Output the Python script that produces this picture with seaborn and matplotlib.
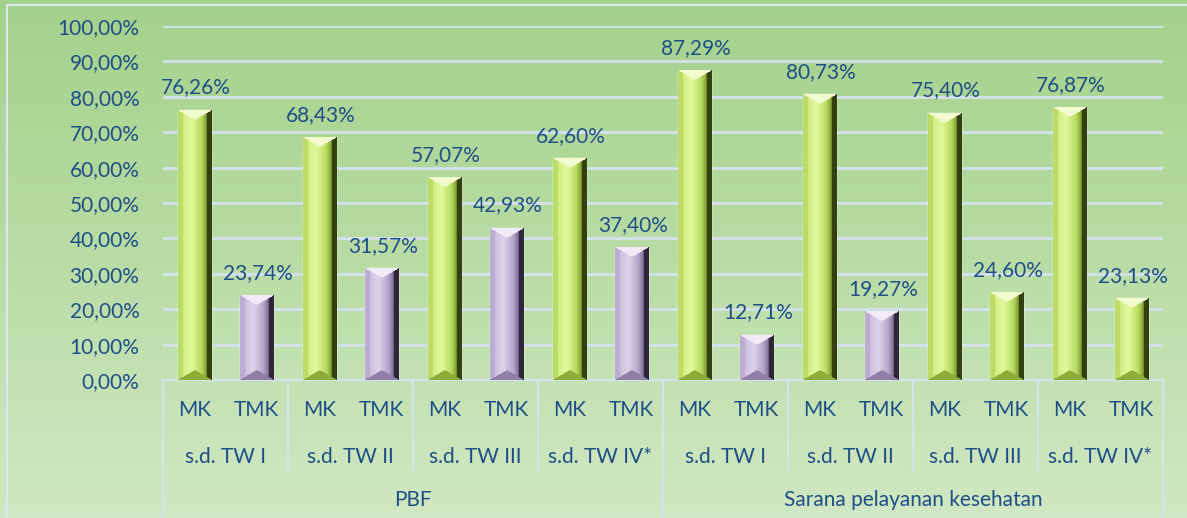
import matplotlib.pyplot as plt
import matplotlib.colors as mcolors
from matplotlib.lines import Line2D
import numpy as np
import pandas as pd
import seaborn as sns

GROUPS = ["PBF", "Sarana pelayanan kesehatan"]
PERIODS = ["s.d. TW I", "s.d. TW II", "s.d. TW III", "s.d. TW IV*"]
STATUS = ["MK", "TMK"]
PBF_MK = [76.26, 68.43, 57.07, 62.60]
PBF_TMK = [23.74, 31.57, 42.93, 37.40]
SARANA_MK = [87.29, 80.73, 75.40, 76.87]
SARANA_TMK = [12.71, 19.27, 24.60, 23.13]
YTICKS = [0, 10, 20, 30, 40, 50, 60, 70, 80, 90, 100]

TEXT = "#1f4e87"
GRID = "#d3e2ee"
FS = 15
W, H, DPI = 1187, 518, 100

# --- shading for the bevelled bars ---
PROFILES = {
    "green": dict(
        stops=[0, 0.15, 0.4, 0.7, 0.88, 1.0],
        cols=["#a9cb4c", "#d2ee86", "#e2f99c", "#b6da5c", "#6f8828", "#384412"],
        top="#f2fccf", left="#bcdc68", right="#334010", bottom="#8eac38",
    ),
    "purple": dict(
        stops=[0, 0.15, 0.4, 0.7, 0.88, 1.0],
        cols=["#a998bf", "#cdc0df", "#ddd3eb", "#b3a3c9", "#6e5f82", "#372c44"],
        top="#f1ebf9", left="#bcadd2", right="#2f263b", bottom="#8f7fa6",
    ),
}


def bar_image(w, h, tone, side=5, cap=10):
    p = PROFILES[tone]
    cmap = mcolors.LinearSegmentedColormap.from_list(
        "p", list(zip(p["stops"], p["cols"]))
    )
    xs = (np.arange(w) + 0.5)[None, :].repeat(h, 0)
    ys = (np.arange(h) + 0.5)[:, None].repeat(w, 1)
    img = cmap(xs / w)[..., :3]
    cap = min(cap, h / 2)
    # triangular caps, narrow side bevels
    tri = cap * (1 - np.abs(xs - w / 2) / (w / 2))
    img[xs < side] = mcolors.to_rgb(p["left"])
    img[xs > w - side] = mcolors.to_rgb(p["right"])
    img[ys < np.maximum(tri, 0)] = mcolors.to_rgb(p["top"])
    img[(h - ys) < np.maximum(tri, 0)] = mcolors.to_rgb(p["bottom"])
    return img


# --- data table ---
rows = []
for g, (mk, tmk) in zip(GROUPS, [(PBF_MK, PBF_TMK), (SARANA_MK, SARANA_TMK)]):
    for i, period in enumerate(PERIODS):
        for s, v in zip(STATUS, [mk[i], tmk[i]]):
            rows.append(dict(group=g, period=period, status=s, value=v))
df = pd.DataFrame(rows)
df["slot"] = [f"{r.group}|{r.period}|{r.status}" for r in df.itertuples()]
# the source colours the last two TMK bars of the second group green
df["tone"] = np.where(df["status"] == "MK", "green", "purple")
df.loc[(df["group"] == GROUPS[1]) & (df["period"].isin(PERIODS[2:])), "tone"] = "green"

sns.set_style("white")
plt.rcParams["font.family"] = ["Lato", "DejaVu Sans"]

fig = plt.figure(figsize=(W / DPI, H / DPI), dpi=DPI)

# background gradient
bg = fig.add_axes([0, 0, 1, 1], zorder=-10)
grad = mcolors.LinearSegmentedColormap.from_list("bg", ["#a3d28b", "#b9dca5", "#d0e8c3"])
bg.imshow(np.linspace(0, 1, 256)[:, None], aspect="auto", cmap=grad, extent=[0, 1, 0, 1])
bg.set_axis_off()
fig.add_artist(Line2D([7 / W, 7 / W], [0, 1 - 5 / H], color="#dbe7f1", lw=1.5))
fig.add_artist(Line2D([7 / W, 1], [1 - 5 / H, 1 - 5 / H], color="#dbe7f1", lw=1.5))

x0, x1, y0, y1 = 163, 1163, 380, 26
ax = fig.add_axes([x0 / W, 1 - y0 / H, (x1 - x0) / W, (y0 - y1) / H])
ax.set_facecolor("none")

sns.barplot(
    data=df, x="slot", y="value", hue="tone", order=df["slot"],
    palette={"green": "#b6da5c", "purple": "#b3a3c9"},
    dodge=False, width=0.53, legend=False, ax=ax, zorder=3,
)

ax.set_xlim(-0.5, len(df) - 0.5)
ax.set_ylim(0, 100)
px_x = (x1 - x0) / len(df)
px_y = (y0 - y1) / 100

for patch in ax.patches:
    bx, bw, bh = patch.get_x(), patch.get_width(), patch.get_height()
    idx = int(round(bx + bw / 2))
    img = bar_image(int(round(bw * px_x)), int(round(bh * px_y)), df["tone"].iloc[idx])
    ax.imshow(img, extent=[bx, bx + bw, 0, bh], aspect="auto", zorder=3.5,
              interpolation="bilinear")
    lab = f"{df['value'].iloc[idx]:.2f}%".replace(".", ",")
    ax.annotate(lab, (bx + bw / 2, bh), xytext=(1, 9), textcoords="offset points",
                ha="center", va="bottom", color=TEXT, fontsize=FS)

ax.set_xlim(-0.5, len(df) - 0.5)
ax.set_ylim(0, 100)
ax.set_yticks(YTICKS)
ax.set_yticklabels([f"{t:.2f}%".replace(".", ",") for t in YTICKS], color=TEXT, fontsize=FS)
ax.tick_params(axis="y", length=0, pad=17)
ax.set_xticks([])
ax.set_xlabel("")
ax.set_ylabel("")
ax.grid(axis="y", color=GRID, lw=2, zorder=0)
ax.set_axisbelow(True)
for side in ["left", "right", "top"]:
    ax.spines[side].set_visible(False)
ax.spines["bottom"].set_color(GRID)
ax.spines["bottom"].set_linewidth(1.5)

# --- multi-level category axis ---
tr = ax.get_xaxis_transform()
f = lambda py: (y0 - py) / (y0 - y1)
for i, r in enumerate(df.itertuples()):
    ax.text(i, f(410), r.status, transform=tr, ha="center", va="center",
            color=TEXT, fontsize=FS)
n_p = len(STATUS)
for j in range(len(GROUPS) * len(PERIODS)):
    ax.text(j * n_p + (n_p - 1) / 2, f(457), PERIODS[j % len(PERIODS)], transform=tr,
            ha="center", va="center", color=TEXT, fontsize=FS)
    if j % len(PERIODS):
        ax.plot([j * n_p - 0.5] * 2, [0, f(472)], transform=tr, color=GRID,
                lw=1.5, clip_on=False)
n_g = n_p * len(PERIODS)
for k, g in enumerate(GROUPS):
    ax.text(k * n_g + (n_g - 1) / 2, f(500), g, transform=tr, ha="center",
            va="center", color=TEXT, fontsize=FS)
for k in range(len(GROUPS) + 1):
    ax.plot([k * n_g - 0.5] * 2, [0, f(520)], transform=tr, color=GRID,
            lw=1.5, clip_on=False)

fig.savefig("out.png", dpi=DPI)
